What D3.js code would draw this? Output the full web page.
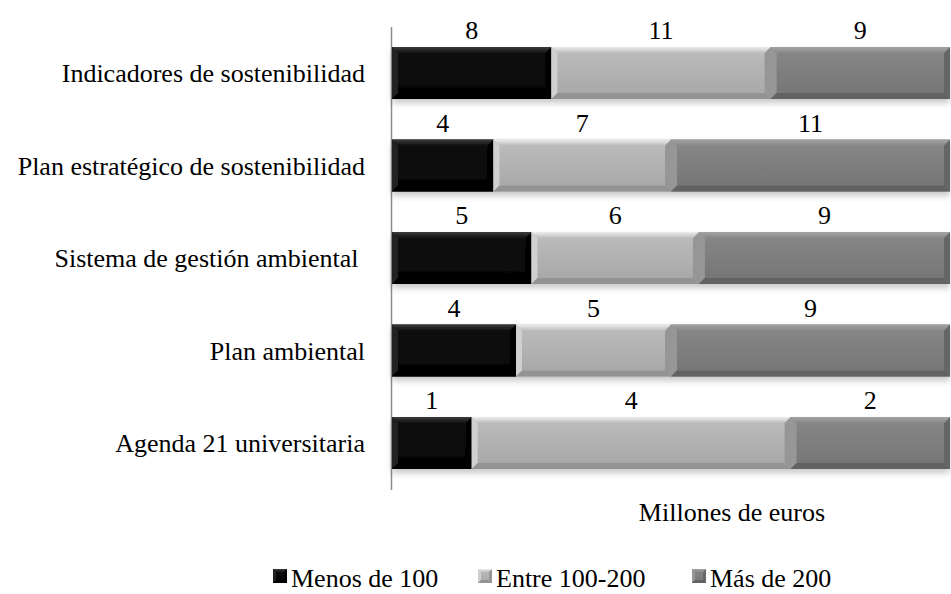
<!DOCTYPE html>
<html>
<head>
<meta charset="utf-8">
<script src="https://cdn.jsdelivr.net/npm/d3@7"></script>
<style>
  html, body { margin: 0; padding: 0; background: #fff; }
  svg { display: block; font-family: "Liberation Serif", "Times New Roman", Tinos, "DejaVu Serif", serif; }
</style>
</head>
<body>
<svg id="chart" width="951" height="594"></svg>
<script>
// ---- data ----
const categories = [
  "Indicadores de sostenibilidad",
  "Plan estratégico de sostenibilidad",
  "Sistema de gestión ambiental ",
  "Plan ambiental",
  "Agenda 21 universitaria"
];
const seriesNames = ["Menos de 100", "Entre 100-200", "Más de 200"];
const menos100   = [8, 4, 5, 4, 1];
const entre100   = [11, 7, 6, 5, 4];
const mas200     = [9, 11, 9, 9, 2];
const axisTitle = "Millones de euros";

// ---- styles ----
const FONT = '"Liberation Serif", "Times New Roman", Tinos, "DejaVu Serif", serif';
const FS = 26;
const palette = [
  { base0: "#121212", base1: "#030303", top: "#3c3c3c", bottom: "#000000", left: "#222222", right: "#000000" },
  { base0: "#bdbdbd", base1: "#a6a6a6", top: "#ededed", bottom: "#939393", left: "#d0d0d0", right: "#969696" },
  { base0: "#888888", base1: "#747474", top: "#a4a4a4", bottom: "#626262", left: "#979797", right: "#666666" }
];

const svg = d3.select("#chart");
const margin = { left: 392, right: 1, top: 47 };
const plotW = 951 - margin.left - margin.right;

const table = categories.map((c, i) => ({
  cat: c,
  [seriesNames[0]]: menos100[i],
  [seriesNames[1]]: entre100[i],
  [seriesNames[2]]: mas200[i]
}));
const stacked = d3.stack().keys(seriesNames).offset(d3.stackOffsetExpand)(table);

const x = d3.scaleLinear().domain([0, 1]).range([margin.left, margin.left + plotW]);
const bandH = 52;
const step = 92.5;
const y = d3.scalePoint().domain(categories).range([margin.top, margin.top + step * (categories.length - 1)]);

// defs
const defs = svg.append("defs");
const filt = defs.append("filter").attr("id", "shadow").attr("x", "-5%").attr("y", "-30%").attr("width", "110%").attr("height", "170%");
filt.append("feDropShadow").attr("dx", 0).attr("dy", 4).attr("stdDeviation", 3).attr("flood-color", "#000").attr("flood-opacity", 0.22);

palette.forEach((p, i) => {
  const g = defs.append("linearGradient").attr("id", "body" + i).attr("x1", 0).attr("y1", 0).attr("x2", 0).attr("y2", 1);
  g.append("stop").attr("offset", "0%").attr("stop-color", p.base0);
  g.append("stop").attr("offset", "100%").attr("stop-color", p.base1);
  const t = defs.append("linearGradient").attr("id", "top" + i).attr("x1", 0).attr("y1", 0).attr("x2", 0).attr("y2", 1);
  t.append("stop").attr("offset", "0%").attr("stop-color", p.top);
  t.append("stop").attr("offset", "100%").attr("stop-color", p.base0);
});

// axis line (category axis)
svg.append("line")
  .attr("x1", margin.left - 0.5).attr("x2", margin.left - 0.5)
  .attr("y1", 27).attr("y2", 490)
  .attr("stroke", "#8c8c8c").attr("stroke-width", 1.5);

// bars
function bevelPaths(x0, y0, w, h, b) {
  const bb = Math.min(b, w / 2, h / 2);
  return {
    top:    `M${x0},${y0}L${x0 + w},${y0}L${x0 + w - bb},${y0 + bb}L${x0 + bb},${y0 + bb}Z`,
    bottom: `M${x0},${y0 + h}L${x0 + w},${y0 + h}L${x0 + w - bb},${y0 + h - bb}L${x0 + bb},${y0 + h - bb}Z`,
    left:   `M${x0},${y0}L${x0 + bb},${y0 + bb}L${x0 + bb},${y0 + h - bb}L${x0},${y0 + h}Z`,
    right:  `M${x0 + w},${y0}L${x0 + w - bb},${y0 + bb}L${x0 + w - bb},${y0 + h - bb}L${x0 + w},${y0 + h}Z`
  };
}
function drawSeg(g, x0, y0, w, h, si, b) {
  const p = palette[si];
  g.append("rect").attr("x", x0).attr("y", y0).attr("width", w).attr("height", h).attr("fill", `url(#body${si})`);
  const bp = bevelPaths(x0, y0, w, h, b);
  g.append("path").attr("d", bp.left).attr("fill", p.left);
  g.append("path").attr("d", bp.right).attr("fill", p.right);
  g.append("path").attr("d", bp.top).attr("fill", `url(#top${si})`);
  g.append("path").attr("d", bp.bottom).attr("fill", p.bottom);
}

const barsG = svg.append("g");
categories.forEach((c, ci) => {
  const row = barsG.append("g").attr("filter", "url(#shadow)");
  stacked.forEach((s, si) => {
    const d = s[ci];
    const x0 = x(d[0]), x1 = x(d[1]);
    drawSeg(row.append("g"), x0, y(c), x1 - x0, bandH, si, 6);
  });
});

// value labels
const rawSeries = [menos100, entre100, mas200];
stacked.forEach((s, si) => {
  svg.append("g").selectAll("text").data(s).join("text")
    .attr("x", d => (x(d[0]) + x(d[1])) / 2)
    .attr("y", d => y(d.data.cat) - 8)
    .attr("text-anchor", "middle")
    .attr("font-family", FONT)
    .attr("font-size", FS)
    .text((d, i) => rawSeries[si][i]);
});

// category labels
svg.append("g").selectAll("text").data(categories).join("text")
  .attr("x", 365)
  .attr("y", d => y(d) + bandH / 2 + 9)
  .attr("text-anchor", "end")
  .attr("font-family", FONT)
  .attr("font-size", FS)
  .style("white-space", "pre")
  .text(d => d);

// axis title
svg.append("text")
  .attr("x", 732).attr("y", 521)
  .attr("text-anchor", "middle")
  .attr("font-family", FONT)
  .attr("font-size", FS)
  .text(axisTitle);

// legend
const legendX = [273, 478, 692];
const lg = svg.append("g");
seriesNames.forEach((n, i) => {
  const g = lg.append("g").attr("transform", `translate(${legendX[i]},569)`);
  drawSeg(g, 0, 0, 14, 14, i, 3);
  g.append("text").attr("x", 18).attr("y", 18)
    .attr("font-family", FONT).attr("font-size", FS).text(n);
});
</script>
</body>
</html>
